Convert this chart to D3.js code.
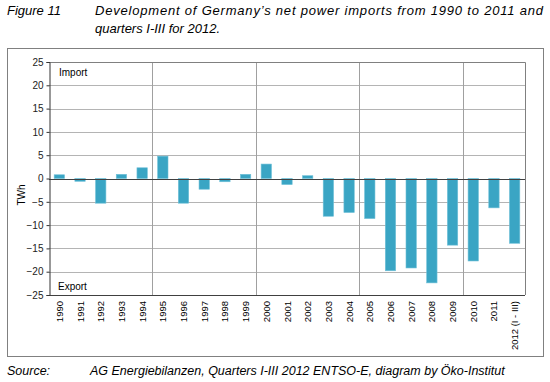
<!DOCTYPE html>
<html>
<head>
<meta charset="utf-8">
<script src="https://cdn.jsdelivr.net/npm/d3@7"></script>
<style>
  body { margin: 0; background: #fff; }
  text { font-family: "Liberation Sans", Arial, sans-serif; }
</style>
</head>
<body>
<div id="chart"></div>
<script>
// Chart data: net power imports (TWh), positive = import, negative = export.
var years = ["1990", "1991", "1992", "1993", "1994", "1995", "1996", "1997",
  "1998", "1999", "2000", "2001", "2002", "2003", "2004", "2005", "2006",
  "2007", "2008", "2009", "2010", "2011", "2012 (I - III)"];
var netImports = [0.8, -0.6, -5.3, 0.9, 2.3, 4.8, -5.3, -2.3, -0.7, 0.9, 3.1,
  -1.3, 0.6, -8.1, -7.3, -8.6, -19.8, -19.2, -22.4, -14.3, -17.7, -6.3, -13.9];
var yTicks = [25, 20, 15, 10, 5, 0, -5, -10, -15, -20, -25];
var groupStarts = ["1995", "2000", "2005", "2010"];

var width = 550, height = 382;
var m = { left: 49, top: 62, right: 525, bottom: 295 };

var svg = d3.select("#chart").append("svg")
    .attr("width", width)
    .attr("height", height);

// Title
var title = svg.append("g").style("font-style", "italic").style("font-size", "13px");
title.append("text").attr("x", 7).attr("y", 15).text("Figure 11");
title.append("text").attr("x", 95).attr("y", 15)
    .attr("textLength", 448).attr("lengthAdjust", "spacing")
    .text("Development of Germany\u2019s net power imports from 1990 to 2011 and");
title.append("text").attr("x", 95).attr("y", 33).text("quarters I-III for 2012.");

// Outer frame
svg.append("rect")
    .attr("x", 7.5).attr("y", 48.5)
    .attr("width", 536).attr("height", 308)
    .attr("fill", "none")
    .attr("stroke", "#808080")
    .attr("stroke-width", 1);

var x = d3.scaleBand()
    .domain(years)
    .range([m.left, m.right])
    .paddingInner(0.5)
    .paddingOuter(0.25);

var y = d3.scaleLinear()
    .domain([-25, 25])
    .range([m.bottom, m.top]);

// Horizontal gridlines
svg.append("g").selectAll("line")
    .data(yTicks)
    .enter().append("line")
    .attr("x1", m.left).attr("x2", m.right)
    .attr("y1", function(d) { return Math.round(y(d)) + 0.5; })
    .attr("y2", function(d) { return Math.round(y(d)) + 0.5; })
    .attr("stroke", "#b4b4b4");

// Vertical group lines every five years
var step = x.step();
svg.append("g").selectAll("line")
    .data(groupStarts)
    .enter().append("line")
    .attr("x1", function(d) { return Math.round(x(d) - step * 0.25) + 0.5; })
    .attr("x2", function(d) { return Math.round(x(d) - step * 0.25) + 0.5; })
    .attr("y1", m.top).attr("y2", m.bottom)
    .attr("stroke", "#a0a0a0");

// Plot border (top and right)
svg.append("path")
    .attr("d", "M" + m.left + "," + (m.top + 0.5) + "H" + (m.right + 0.5) + "V" + m.bottom)
    .attr("fill", "none")
    .attr("stroke", "#808080");

// Bars
svg.append("g").selectAll("rect")
    .data(netImports)
    .enter().append("rect")
    .attr("x", function(d, i) { return x(years[i]); })
    .attr("width", x.bandwidth())
    .attr("y", function(d) { return y(Math.max(0, d)); })
    .attr("height", function(d) { return Math.abs(y(d) - y(0)); })
    .attr("fill", "#3aa5c4")
    .attr("stroke", "#6fc0d8")
    .attr("stroke-width", 0.6);

// Zero line
svg.append("line")
    .attr("x1", m.left).attr("x2", m.right)
    .attr("y1", Math.round(y(0)) + 0.5).attr("y2", Math.round(y(0)) + 0.5)
    .attr("stroke", "#404040");

// Bottom line
svg.append("line")
    .attr("x1", m.left).attr("x2", m.right)
    .attr("y1", Math.round(y(-25)) + 0.5).attr("y2", Math.round(y(-25)) + 0.5)
    .attr("stroke", "#404040");

// Y axis
var yAxis = svg.append("g")
    .attr("transform", "translate(" + (m.left + 0.5) + ",0)")
    .call(d3.axisLeft(y).tickValues(yTicks).tickSize(3).tickPadding(3));
yAxis.select(".domain").attr("stroke", "#333");
yAxis.selectAll(".tick line").attr("stroke", "#333");
yAxis.selectAll("text")
    .style("font-size", "10px")
    .attr("fill", "#222");

svg.append("text")
    .attr("transform", "translate(25,195) rotate(-90)")
    .attr("text-anchor", "middle")
    .style("font-size", "10px")
    .text("TWh");

// X axis labels (rotated)
svg.append("g").selectAll("text")
    .data(years)
    .enter().append("text")
    .attr("transform", function(d) {
      return "translate(" + (x(d) + x.bandwidth() / 2 + 3.5) + "," + (m.bottom + 6) + ") rotate(-90)";
    })
    .attr("text-anchor", "end")
    .style("font-size", "9.5px")
    .text(function(d) { return d; });

// Import / Export annotations
svg.append("text").attr("x", 59).attr("y", 76)
    .style("font-size", "10px").text("Import");
svg.append("text").attr("x", 58).attr("y", 290)
    .style("font-size", "10px").text("Export");

// Source
var src = svg.append("g").style("font-style", "italic").style("font-size", "12.5px");
src.append("text").attr("x", 7).attr("y", 375).text("Source:");
src.append("text").attr("x", 90).attr("y", 375)
    .text("AG Energiebilanzen, Quarters I-III 2012 ENTSO-E, diagram by \u00d6ko-Institut");
</script>
</body>
</html>
